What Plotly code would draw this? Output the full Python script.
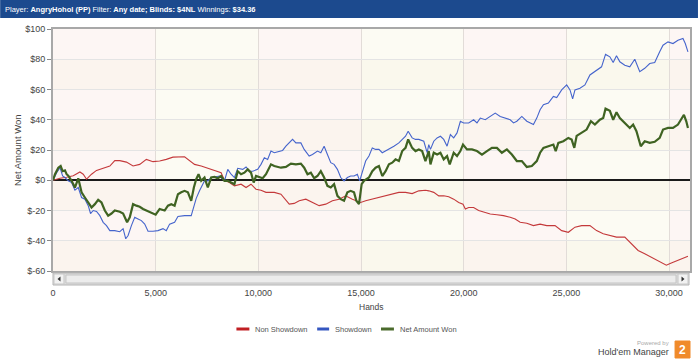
import plotly.graph_objects as go

# ---------------- data ----------------
hands_red = [0, 340, 663, 987, 1311, 1472, 1634, 1877, 2120, 2443, 2767, 3009, 3252, 3576, 3899, 4223,
             4547, 4870, 5194, 5517, 5841, 6407, 6650, 6893, 7216, 7540, 7864, 8187, 8349, 8592, 8834,
             9158, 9401, 9643, 9886, 10129, 10372, 10776, 11100, 11342, 11504, 11747, 11990, 12313, 12636,
             12960, 13283, 13607, 13931, 14254, 14578, 14982, 15225, 15549, 15872, 16196, 16520, 16843,
             17167, 17490, 17814, 18137, 18300, 18542, 18785, 19028, 19271, 19513, 19756, 19966, 20080,
             20241, 20484, 20727, 20969, 21293, 21617, 21940, 22264, 22507, 22749, 23073, 23396, 23720,
             24044, 24448, 24771, 25095, 25418, 25742, 26147, 26470, 26794, 27117, 27441, 27845, 28169,
             28493, 28816, 29140, 29463, 29868, 30111, 30434, 30758, 30920]
non_showdown = [0, 1.3, 2, 3, 5.5, 4, 0.7, 4, 6.5, 8, 9.4, 13, 13, 12, 9.4, 10.5,
                13.8, 12.3, 12.7, 13.8, 15.3, 15.5, 12.7, 10.5, 9.4, 7.9, 6.8, 5, 0, -1.5, -3.7,
                -2.6, -4.8, -2.6, -5.9, -6.6, -8, -8, -9.2, -13.6, -15.8, -15.3, -13.6, -12.5, -14.7,
                -16.8, -15.8, -13.6, -12.5, -10.3, -12.5, -14.7, -13.6, -12.5, -11.4, -10.3, -9.2, -8,
                -8, -8.8, -7, -6.6, -7, -8, -10.3, -10.3, -10.9, -12.5, -14.7, -15.8, -19,
                -18, -18, -20, -21, -22.3, -22.8, -23.4, -24.5, -25.6, -27.8, -28.4, -30, -29,
                -30, -30, -33.3, -34.4, -31, -30, -30, -33.3, -35.4, -36.5, -37.6, -37.6, -42,
                -46.4, -48.6, -50.8, -53, -56.2, -54.7, -53, -50.8, -50.3]

hands_blue = [0, 178, 340, 469, 582, 744, 906, 1068, 1230, 1391, 1553, 1715, 1828, 1958, 2120, 2281,
              2443, 2605, 2767, 3009, 3252, 3414, 3543, 3657, 3818, 3980, 4142, 4304, 4466, 4628, 4870,
              5113, 5356, 5517, 5679, 5922, 6084, 6407, 6731, 6812, 6974, 7135, 7216, 7378, 7540, 7702,
              7864, 8106, 8349, 8511, 8673, 8834, 8996, 9239, 9401, 9563, 9724, 9967, 10129, 10291,
              10453, 10614, 10776, 11019, 11181, 11342, 11504, 11666, 11828, 12070, 12232, 12474, 12636,
              12879, 13041, 13203, 13364, 13526, 13688, 13850, 14012, 14173, 14335, 14497, 14659, 14821,
              14934, 15063, 15225, 15387, 15549, 15710, 15872, 16034, 16196, 16358, 16601, 16843, 17005,
              17167, 17296, 17490, 17652, 17814, 18057, 18219, 18299, 18381, 18542, 18704, 18866, 19028,
              19190, 19351, 19513, 19675, 19837, 19999, 20241, 20484, 20646, 20808, 21050, 21293, 21536,
              21778, 22021, 22264, 22426, 22587, 22830, 23073, 23396, 23558, 23720, 23882, 24124, 24367,
              24529, 24771, 25014, 25176, 25305, 25418, 25661, 25904, 26147, 26389, 26713, 26907, 27117,
              27279, 27441, 27603, 27845, 28088, 28331, 28574, 28816, 29059, 29302, 29544, 29706, 29949,
              30192, 30434, 30677, 30790, 30920]
showdown = [0, 5, 8.3, 2.8, 1.8, -0.4, -1.5, -6.6, -4.8, -11.4, -12.5, -16.8, -22, -20, -20.6, -23.4,
            -27.8, -30, -33.3, -33.3, -34, -32, -38.7, -36.5, -30, -24.5, -25.6, -26.7, -29, -33.7, -33.7,
            -33.3, -32, -33.3, -29, -27.8, -24, -23.4, -23.4, -20, -12, -7, -4.8, -0.4, -0.4, 1.8,
            2.2, 2.8, -0.4, 7.2, 4, 1.8, 7.9, 7.2, 8.8, 6, 6, 7.2, 10.5, 14.9,
            13.8, 19.3, 18.2, 19.3, 19.7, 22.5, 24.7, 27, 24.7, 24.7, 20.4, 16, 17,
            19.3, 18.2, 22.5, 17, 11.6, 10.5, 7.2, 1.8, -0.4, 1.8, 2.8, 2.8, 4,
            -0.4, 6, 12.7, 16, 21.4, 20.4, 20.4, 18.2, 19.3, 20.4, 22.5, 24.7, 27,
            29.1, 32.4, 28, 27, 27, 25.8, 18.2, 23.6, 20.4, 25.8, 28, 29.1, 27,
            22.5, 30.2, 28, 31.3, 39, 37.9, 37.9, 40, 37.9, 41.1, 40, 42.2, 44.4,
            42.2, 41.1, 40, 37.9, 39, 42.2, 39, 36.8, 41.1, 46.6, 49.9, 51, 55.4,
            54.7, 59.7, 63, 59.7, 53.8, 59.7, 60.8, 63, 69.6, 71.8, 75, 83.2, 81.6,
            77.9, 82.3, 78.3, 76.1, 75, 80, 71.8, 74, 77.2, 77.9, 84.9, 89.3, 91.5,
            90.4, 92.6, 93.7, 90.4, 84.9]

hands_green = [0, 97, 259, 372, 469, 582, 663, 744, 906, 1068, 1230, 1391, 1553, 1715, 1877, 2039,
               2200, 2362, 2524, 2686, 2848, 3009, 3252, 3414, 3608, 3738, 3899, 4061, 4223, 4385, 4547,
               4789, 4999, 5194, 5437, 5598, 5760, 5922, 6084, 6246, 6407, 6569, 6731, 6860, 6974, 7087,
               7216, 7378, 7540, 7702, 7864, 8025, 8187, 8349, 8511, 8673, 8834, 8996, 9158, 9320, 9482,
               9643, 9773, 9886, 10048, 10210, 10372, 10614, 10776, 10938, 11100, 11342, 11585, 11828,
               12070, 12232, 12394, 12555, 12717, 12879, 13041, 13203, 13364, 13526, 13688, 13850, 14012,
               14173, 14335, 14497, 14659, 14772, 14901, 15031, 15144, 15387, 15549, 15710, 15872, 16034,
               16196, 16358, 16520, 16681, 16843, 17005, 17167, 17296, 17490, 17652, 17814, 17976, 18137,
               18299, 18381, 18542, 18704, 18866, 19028, 19190, 19319, 19513, 19675, 19837, 19966, 20160,
               20403, 20646, 20889, 21131, 21374, 21617, 21859, 22102, 22345, 22587, 22830, 23073, 23316,
               23558, 23720, 23882, 24124, 24367, 24480, 24609, 24852, 25095, 25257, 25386, 25499, 25742,
               25985, 26195, 26389, 26632, 26794, 26907, 27117, 27279, 27441, 27603, 27845, 28088, 28250,
               28412, 28622, 28816, 29059, 29302, 29544, 29706, 29949, 30192, 30434, 30725, 30839, 30920]
net_won = [0, 4, 8.3, 9.4, 6, 6.5, 4, 3, -0.4, -4.8, 1.3, -8, -11.4, -14.7, -18, -15.8,
           -13, -14.7, -20, -23.4, -22, -20, -20.8, -22, -27.8, -24.5, -15.8, -16.8, -17.5, -19, -20,
           -21, -22.8, -19, -20, -16.8, -15.8, -16.8, -9.2, -8, -7, -8, -13.6, -4.8, 0.7, 4,
           -0.4, 1.8, -4.8, 1.8, 2.2, 1.3, 2.8, -0.4, -0.4, -1.5, -2.6, 6, 4, 5, 7.2,
           5, -1.5, 2.8, 1.8, 1.3, 4, 10.5, 9.4, 8.8, 8.3, 8.8, 11, 10.5,
           11, 8.3, 4, 5, 1.3, 2.8, 6, 1.8, -3.7, -4.8, -2.6, -10.3, -12.5,
           -13.6, -8, -7, -8, -13.6, -15.8, -2.6, -0.4, 1.8, 6, 8.3, 9.4, 2.8,
           6, 10.5, 11.6, 13.8, 12.7, 19.3, 21.4, 27, 21.4, 19.3, 20.4, 19.3, 12.7,
           19.3, 10.5, 18.2, 17, 18.2, 13.8, 16, 10.5, 18.2, 16, 19.3, 23.6, 20.4,
           20.4, 19.3, 17, 19.3, 21.4, 21.4, 18.2, 20.4, 17, 12.7, 12.7, 8.8, 9.4,
           12.7, 18.2, 21.4, 22.5, 23.6, 19.3, 24.7, 25.8, 28, 26.9, 21.4, 29.3, 31.3,
           33.5, 39, 36.8, 40, 41.1, 47.3, 45.9, 40, 45, 41.1, 37.9, 34.6, 36.8,
           32.4, 22.5, 25.8, 24.7, 25.4, 28, 33.5, 34.6, 34.6, 36.8, 43.3, 39, 34.6]

x_ticks = [0, 5000, 10000, 15000, 20000, 25000, 30000]
x_tick_labels = ["0", "5,000", "10,000", "15,000", "20,000", "25,000", "30,000"]
y_ticks = [100, 80, 60, 40, 20, 0, -20, -40, -60]
y_tick_labels = ["$100", "$80", "$60", "$40", "$20", "$0", "$-20", "$-40", "$-60"]
series_names = ["Non Showdown", "Showdown", "Net Amount Won"]
series_colors = ["#c4393b", "#4564cc", "#3f6322"]
legend_colors = ["#c01f23", "#3456c0", "#4b6b2c"]
band_edges = [0, 5000, 10000, 15000, 20000, 25000, 30000, 31020]
header_parts = [("Player: ", False), ("AngryHohol (PP)", True), (" Filter: ", False),
                ("Any date; Blinds: $4NL", True), (" Winnings: ", False), ("$34.36", True)]

# ---------------- layout geometry ----------------
W, H = 700, 363
L, R, T, B = 53, 8, 29, 92
PW, PH = W - L - R, H - T - B


def px(x):
    return (x - L) / PW


def py(y):
    return (H - B - y) / PH


FONT = "Liberation Sans, Arial, sans-serif"

fig = go.Figure()
for xs, ys, name, col, wid in [(hands_red, non_showdown, series_names[0], series_colors[0], 1.1),
                               (hands_blue, showdown, series_names[1], series_colors[1], 1.1),
                               (hands_green, net_won, series_names[2], series_colors[2], 2.2)]:
    fig.add_trace(go.Scatter(x=xs, y=ys, mode="lines", name=name,
                             line=dict(color=col, width=wid), showlegend=False))

shapes = []
# background bands
for i in range(len(band_edges) - 1):
    col = "rgba(244,214,204,0.22)" if i % 2 == 0 else "rgba(244,240,206,0.25)"
    shapes.append(dict(type="rect", xref="x", yref="paper", x0=band_edges[i], x1=band_edges[i + 1],
                       y0=0, y1=1, fillcolor=col, line_width=0, layer="below"))
for y0 in [60, 20, -20, -60]:
    shapes.append(dict(type="rect", xref="paper", yref="y", x0=0, x1=1, y0=y0, y1=y0 + 20,
                       fillcolor="rgba(235,225,190,0.10)", line_width=0, layer="below"))
# header bar
shapes.append(dict(type="rect", xref="paper", yref="paper", x0=px(0), x1=px(W), y0=py(18), y1=py(0),
                   fillcolor="#1c4a8e", line_width=0))
# scrollbar
shapes.append(dict(type="rect", xref="paper", yref="paper", x0=px(53), x1=px(691), y0=py(285), y1=py(273),
                   fillcolor="#dcdcdc", line=dict(color="#b4b4b4", width=1)))
shapes.append(dict(type="rect", xref="paper", yref="paper", x0=px(54), x1=px(64), y0=py(284), y1=py(274),
                   fillcolor="#f2f2f2", line=dict(color="#c8c8c8", width=1)))
shapes.append(dict(type="rect", xref="paper", yref="paper", x0=px(680), x1=px(690), y0=py(284), y1=py(274),
                   fillcolor="#f2f2f2", line=dict(color="#c8c8c8", width=1)))
shapes.append(dict(type="rect", xref="paper", yref="paper", x0=px(66), x1=px(678), y0=py(283), y1=py(275),
                   fillcolor="#ececec", line=dict(color="#c4c4c4", width=1)))
shapes.append(dict(type="path", xref="paper", yref="paper",
                   path=f"M {px(57.5)} {py(279)} L {px(60.5)} {py(276.5)} L {px(60.5)} {py(281.5)} Z",
                   fillcolor="#333", line_width=0))
shapes.append(dict(type="path", xref="paper", yref="paper",
                   path=f"M {px(686.5)} {py(279)} L {px(683.5)} {py(276.5)} L {px(683.5)} {py(281.5)} Z",
                   fillcolor="#333", line_width=0))
# legend swatches
leg_sw = [(237, 250), (318, 330), (382, 395)]
for (a, b), c in zip(leg_sw, legend_colors):
    shapes.append(dict(type="line", xref="paper", yref="paper", x0=px(a), x1=px(b), y0=py(329), y1=py(329),
                       line=dict(color=c, width=3)))
# logo box
shapes.append(dict(type="rect", xref="paper", yref="paper", x0=px(677), x1=px(692), y0=py(358), y1=py(341),
                   fillcolor="#f08a2a", line=dict(color="#f08a2a", width=1)))

annotations = []
header_text = "".join(f"<b>{t}</b>" if b else t for t, b in header_parts)
annotations.append(dict(xref="paper", yref="paper", x=px(3), y=py(9), xanchor="left", yanchor="middle",
                        text=header_text, showarrow=False, font=dict(family=FONT, size=7.5, color="white")))
annotations.append(dict(xref="paper", yref="paper", x=px(17), y=py(150), xanchor="center", yanchor="middle",
                        text="Net Amount Won", textangle=-90, showarrow=False,
                        font=dict(family=FONT, size=9.5, color="#444")))
annotations.append(dict(xref="paper", yref="paper", x=px(372), y=py(307), xanchor="center", yanchor="middle",
                        text="Hands", showarrow=False, font=dict(family=FONT, size=8.5, color="#444")))
leg_tx = [254, 334, 399]
for x0, name in zip(leg_tx, series_names):
    annotations.append(dict(xref="paper", yref="paper", x=px(x0), y=py(329), xanchor="left", yanchor="middle",
                            text=name, showarrow=False, font=dict(family=FONT, size=7.5, color="#555")))
annotations.append(dict(xref="paper", yref="paper", x=px(673), y=py(343), xanchor="right", yanchor="middle",
                        text="Powered by", showarrow=False, font=dict(family=FONT, size=6, color="#aaa")))
annotations.append(dict(xref="paper", yref="paper", x=px(673), y=py(352), xanchor="right", yanchor="middle",
                        text="Hold'em Manager", showarrow=False, font=dict(family=FONT, size=9, color="#444")))
annotations.append(dict(xref="paper", yref="paper", x=px(684.5), y=py(349.5), xanchor="center", yanchor="middle",
                        text="<b>2</b>", showarrow=False, font=dict(family=FONT, size=12, color="white")))

fig.update_layout(
    width=W, height=H, margin=dict(l=L, r=R, t=T, b=B),
    paper_bgcolor="white", plot_bgcolor="white",
    shapes=shapes, annotations=annotations, showlegend=False,
    xaxis=dict(range=[0, 31020], tickvals=x_ticks, ticktext=x_tick_labels, showgrid=True,
               gridcolor="#e2dcd8", gridwidth=1, zeroline=False, showline=True, mirror=True,
               linecolor="#a8a8a8", linewidth=2, ticks="", ticklabelstandoff=12,
               tickfont=dict(family=FONT, size=9, color="#444"), fixedrange=True),
    yaxis=dict(range=[-60, 100], tickvals=y_ticks, ticktext=y_tick_labels, showgrid=True,
               gridcolor="#e4e4e4", gridwidth=1, zeroline=True, zerolinecolor="#1a1a1a", zerolinewidth=2,
               showline=True, mirror=True, linecolor="#a8a8a8", linewidth=2, ticks="outside", ticklen=4,
               tickcolor="#888", tickfont=dict(family=FONT, size=9, color="#444"), fixedrange=True),
)

fig.write_html("out.html", config={"displayModeBar": False},
               post_script="document.body.style.margin='0';document.body.style.overflow='hidden';")
